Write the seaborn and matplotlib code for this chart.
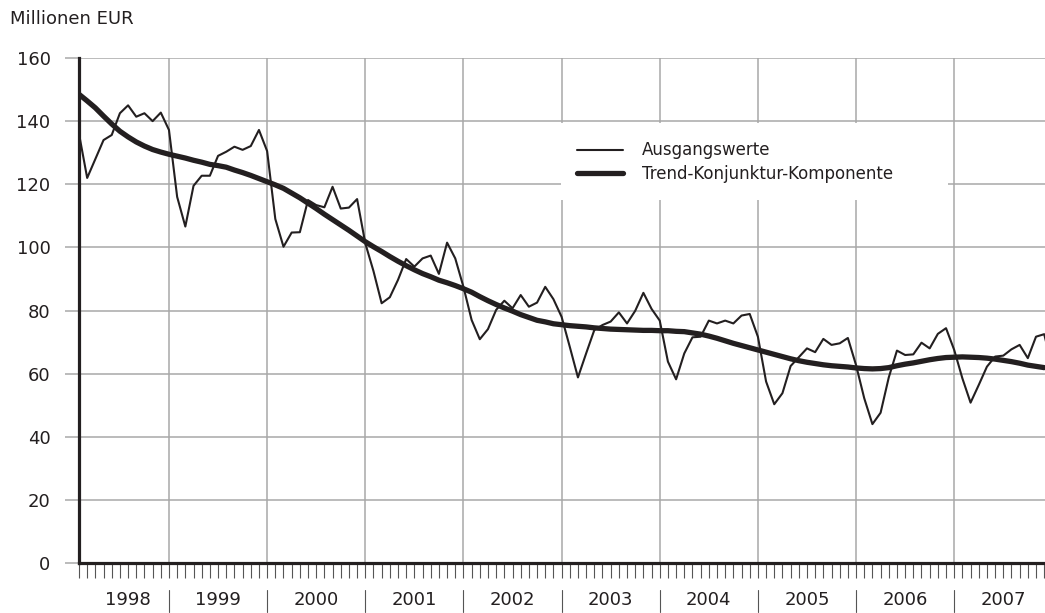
import matplotlib
matplotlib.use("Agg")
import matplotlib.pyplot as plt
import numpy as np
import pandas as pd
import seaborn as sns
from matplotlib.patches import Rectangle
from matplotlib.transforms import blended_transform_factory

# ---------------- data (month index: 0 = Jan 1998) ----------------
monate = list(range(1, 121))
ausgangswerte = [
    136.0, 122.0, 128.0, 134.0, 135.6, 142.5, 145.0, 141.4, 142.5, 140.0, 142.7, 137.2,
    116.0, 106.6, 119.5, 122.7, 122.7, 129.0, 130.3, 131.9, 130.9, 132.1, 137.2, 130.5,
    109.0, 100.2, 104.7, 104.8, 115.0, 113.4, 112.7, 119.2, 112.3, 112.6, 115.3, 101.3,
    92.5, 82.3, 84.2, 89.7, 96.3, 93.9, 96.5, 97.4, 91.6, 101.5, 96.5, 87.5,
    77.0, 70.9, 74.1, 80.2, 83.1, 80.7, 84.9, 81.2, 82.5, 87.5, 83.6, 78.0,
    68.5, 58.8, 66.4, 73.8, 75.4, 76.5, 79.4, 75.9, 79.9, 85.6, 80.5, 76.8,
    63.8, 58.2, 66.4, 71.5, 71.7, 76.8, 75.9, 76.8, 75.9, 78.4, 78.9, 71.7,
    57.5, 50.3, 53.8, 62.4, 65.2, 68.0, 66.8, 71.0, 69.1, 69.6, 71.3, 62.7,
    52.2, 44.0, 47.6, 58.8, 67.3, 65.9, 66.1, 69.8, 68.0, 72.6, 74.4, 67.5,
    58.5, 50.8, 56.4, 62.2, 65.4, 65.7, 67.7, 69.1, 64.9, 71.7, 72.5, 62.0,
]
trend = [
    148.5, 146.4, 144.2, 141.6, 139.1, 136.8, 135.0, 133.4, 132.1, 131.0, 130.2, 129.5,
    128.9, 128.3, 127.6, 127.0, 126.3, 125.9, 125.4, 124.5, 123.7, 122.8, 121.8, 120.8,
    119.8, 118.7, 117.2, 115.7, 114.0, 112.3, 110.5, 108.8, 107.1, 105.4, 103.6, 101.8,
    100.2, 98.7, 97.1, 95.6, 94.2, 92.9, 91.7, 90.7, 89.6, 88.8, 87.9, 86.9,
    85.8, 84.4, 83.1, 81.9, 80.8, 79.8, 78.7, 77.8, 76.9, 76.4, 75.8, 75.5,
    75.2, 75.0, 74.8, 74.5, 74.3, 74.1, 74.0, 73.9, 73.8, 73.7, 73.7, 73.6,
    73.6, 73.4, 73.3, 72.9, 72.5, 71.9, 71.2, 70.4, 69.6, 68.9, 68.2, 67.5,
    66.8, 66.1, 65.4, 64.7, 64.1, 63.6, 63.2, 62.8, 62.5, 62.3, 62.1, 61.8,
    61.6, 61.5, 61.6, 61.9, 62.5, 63.0, 63.4, 63.9, 64.4, 64.8, 65.1, 65.2,
    65.3, 65.2, 65.1, 64.9, 64.6, 64.2, 63.8, 63.3, 62.7, 62.3, 61.9,
]
jahre = list(range(1998, 2008))
jahr_mitte = [7.0] + [12 * k + 6 for k in range(1, 10)]
jahr_grenzen = [12 * k for k in range(1, 10)]
y_ticks = [0, 20, 40, 60, 80, 100, 120, 140, 160]
serie_namen = ["Ausgangswerte", "Trend-Konjunktur-Komponente"]

# ---------------- style ----------------
sns.set_style("white")
plt.rcParams["font.family"] = ["DejaVu Sans"]
ink = "#231f20"
grid_c = "#a8a8a8"

fig, ax = plt.subplots(figsize=(10.45, 6.13), dpi=100)
fig.subplots_adjust(left=79 / 1045, right=1.0, bottom=1 - 563 / 613, top=1 - 58 / 613)

df_raw = pd.DataFrame({"Monat": monate, "Wert": ausgangswerte})
df_trend = pd.DataFrame({"Monat": monate[:len(trend)], "Wert": trend})

sns.lineplot(data=df_raw, x="Monat", y="Wert", ax=ax, color=ink, linewidth=1.5,
             label=serie_namen[0], zorder=3)
sns.lineplot(data=df_trend, x="Monat", y="Wert", ax=ax, color=ink, linewidth=3.8,
             label=serie_namen[1], zorder=4)

ax.set_xlim(1, 119.1)
ax.set_ylim(0, 160)
ax.set_xlabel("")
ax.set_ylabel("")

ax.set_yticks(y_ticks)
ax.set_xticks(jahr_grenzen)
ax.set_xticklabels([])
ax.set_xticks(monate[:119], minor=True)

ax.set_axisbelow(True)
ax.grid(True, which="major", axis="both", color=grid_c, linewidth=1.1)

ax.tick_params(axis="y", which="major", direction="out", length=10, width=1.1,
               color=grid_c, pad=10.5, labelsize=13, labelcolor=ink, left=True)
ax.tick_params(axis="x", which="both", direction="out", length=10.5, width=0.8,
               color="#555555", bottom=True, labelbottom=False)

for s in ["top", "right"]:
    ax.spines[s].set_visible(False)
for s in ["left", "bottom"]:
    ax.spines[s].set_color(ink)
    ax.spines[s].set_linewidth(2.3)
    ax.spines[s].set_zorder(5)

trans = blended_transform_factory(ax.transData, ax.transAxes)
for j, c in zip(jahre, jahr_mitte):
    ax.text(c, -0.0733, str(j), transform=trans, ha="center", va="center",
            fontsize=13, color=ink, clip_on=False)
for b in jahr_grenzen:
    ax.plot([b, b], [-0.0535, -0.097], transform=trans, color="#555555",
            linewidth=0.8, clip_on=False)

# legend box
ax.add_patch(Rectangle((0.499, 0.719), 0.401, 0.152, transform=ax.transAxes,
                       facecolor="white", edgecolor="none", zorder=1))
leg = ax.legend(loc="center left", bbox_to_anchor=(0.5155, 0.794), frameon=False,
                fontsize=12, handlelength=2.75, handletextpad=1.14, labelspacing=0.32,
                borderpad=0, borderaxespad=0)
for t in leg.get_texts():
    t.set_color(ink)

fig.text(10 / 1045, 1 - 19.5 / 613, "Millionen EUR", ha="left", va="center",
         fontsize=13, color=ink)

fig.savefig("out.png", dpi=100)
